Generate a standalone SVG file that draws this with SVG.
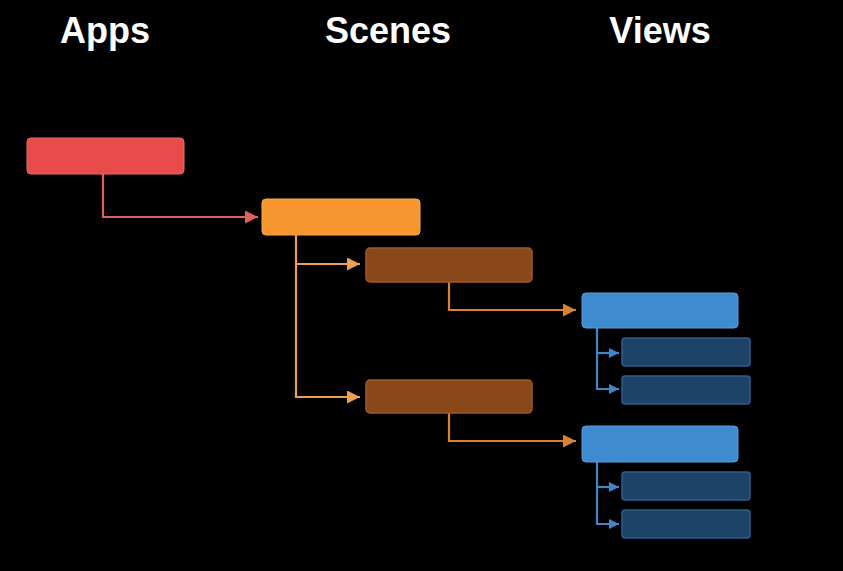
<svg xmlns="http://www.w3.org/2000/svg" width="843" height="571" viewBox="0 0 843 571">
<defs>
<style>
.t{font-family:"Liberation Sans",Arial,sans-serif;font-weight:bold;font-size:36px;fill:#fff}
.c{fill:none;stroke-width:2.2}
</style>
<marker id="mr" markerWidth="13" markerHeight="13" refX="13" refY="6.5" orient="auto" markerUnits="userSpaceOnUse"><path d="M0,0L13,6.5L0,13z" fill="#E0605C"/></marker>
<marker id="mo" markerWidth="13" markerHeight="13" refX="13" refY="6.5" orient="auto" markerUnits="userSpaceOnUse"><path d="M0,0L13,6.5L0,13z" fill="#EFA04E"/></marker>
<marker id="mb" markerWidth="13" markerHeight="13" refX="13" refY="6.5" orient="auto" markerUnits="userSpaceOnUse"><path d="M0,0L13,6.5L0,13z" fill="#D9822F"/></marker>
<marker id="mu" markerWidth="10" markerHeight="10" refX="10" refY="5" orient="auto" markerUnits="userSpaceOnUse"><path d="M0,0L10,5L0,10z" fill="#3E86C8"/></marker>
</defs>
<rect width="843" height="571" fill="#000"/>
<g id="titles">
<text class="t" x="105" y="43" text-anchor="middle">Apps</text>
<text class="t" x="388" y="43" text-anchor="middle">Scenes</text>
<text class="t" x="660" y="43" text-anchor="middle">Views</text>
</g>
<g id="connectors">
<path class="c" stroke="#E0605C" d="M103,174V217H258" marker-end="url(#mr)"/>
<path class="c" stroke="#EFA04E" d="M296,235V397H360" marker-end="url(#mo)"/>
<path class="c" stroke="#EFA04E" d="M296,264H360" marker-end="url(#mo)"/>
<path class="c" stroke="#D9822F" d="M449,282V310H576" marker-end="url(#mb)"/>
<path class="c" stroke="#D9822F" d="M449,413V441H576" marker-end="url(#mb)"/>
<path class="c" stroke="#3E86C8" d="M597,328V389H619" marker-end="url(#mu)"/>
<path class="c" stroke="#3E86C8" d="M597,353H619" marker-end="url(#mu)"/>
<path class="c" stroke="#3E86C8" d="M597,462V524H619" marker-end="url(#mu)"/>
<path class="c" stroke="#3E86C8" d="M597,487H619" marker-end="url(#mu)"/>
</g>
<g id="app"><rect x="27" y="138" width="157" height="36" rx="4" fill="#E84C4A" stroke="#F06A66" stroke-width="1"/></g>
<g id="scene"><rect x="262" y="199" width="158" height="36" rx="4" fill="#F7952F" stroke="#FBA94E" stroke-width="1"/></g>
<g id="scene1"><rect x="366" y="248" width="166" height="34" rx="4" fill="#8A4719" stroke="#A35A22" stroke-width="1.5"/></g>
<g id="scene2"><rect x="366" y="380" width="166" height="33" rx="4" fill="#8A4719" stroke="#A35A22" stroke-width="1.5"/></g>
<g id="view1"><rect x="582" y="293" width="156" height="35" rx="4" fill="#3F8BD0" stroke="#55A0E0" stroke-width="1"/></g>
<g id="view1a"><rect x="622" y="338" width="128" height="28" rx="3" fill="#1D4468" stroke="#2E5E8C" stroke-width="1.5"/></g>
<g id="view1b"><rect x="622" y="376" width="128" height="28" rx="3" fill="#1D4468" stroke="#2E5E8C" stroke-width="1.5"/></g>
<g id="view2"><rect x="582" y="426" width="156" height="36" rx="4" fill="#3F8BD0" stroke="#55A0E0" stroke-width="1"/></g>
<g id="view2a"><rect x="622" y="472" width="128" height="28" rx="3" fill="#1D4468" stroke="#2E5E8C" stroke-width="1.5"/></g>
<g id="view2b"><rect x="622" y="510" width="128" height="28" rx="3" fill="#1D4468" stroke="#2E5E8C" stroke-width="1.5"/></g>
</svg>
